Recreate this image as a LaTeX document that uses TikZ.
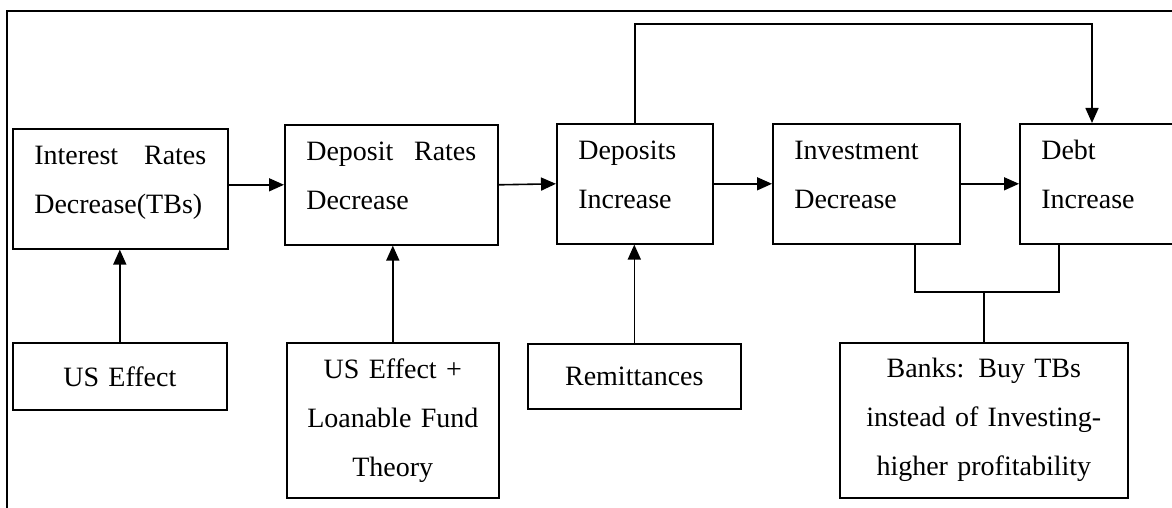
\documentclass[tikz,border=0pt]{standalone}
\usepackage{fontspec}
\setmainfont{Liberation Serif}
\usetikzlibrary{arrows.meta}

\begin{document}
\begin{tikzpicture}[
  x=1pt, y=-1pt,
  every node/.style = {font=\fontsize{28}{49}\selectfont},
  box/.style        = {draw, line width=1.6pt, rectangle, anchor=north west},
  stage/.style      = {box, align=left, inner xsep=21.5pt, inner ysep=0pt,
                       text height=36pt, text depth=84pt},
  cause/.style      = {box, align=center, inner sep=0pt},
  arr/.style        = {-{Triangle[length=15pt, width=13pt]}, line width=1.6pt},
  link/.style       = {line width=1.6pt},
]

\useasboundingbox (0,0) rectangle (1172,508);

%% ── Frame ────────────────────────────────────────────────────────────────
\draw[link] (7,508) -- (7,11) -- (1172,11);

% ── TOP ROW: chain of effects ───────────────────────────────────────────────
\node[stage, text width=172pt] (intr)  at (12,128)   {Interest\hfill Rates\\Decrease(TBs)};
\node[stage, text width=170pt] (depr)  at (284,124)  {Deposit\hfill Rates\\Decrease};
\node[stage, text width=113pt] (depo)  at (556,123)  {Deposits\\Increase};
\node[stage, text width=144pt] (inv)   at (772,123)  {Investment\\Decrease};
\node[stage, text width=127pt] (debt)  at (1019,123) {Debt\\Increase};

% Arrows along the row
\draw[arr] (depr.west -| intr.east) -- (depr.west);
\draw[arr] (depr.east) -- (depo.west);
\draw[arr] (depo.east) -- (inv.west);
\draw[arr] (inv.east)  -- (debt.west);

% Feedback: deposits straight to debt
\coordinate (fb) at (1092,24);
\draw[arr] (depo.north) |- (fb) -- (fb |- debt.north);

% ── BOTTOM ROW: causes ──────────────────────────────────────────────────────
\node[cause, text width=214pt, minimum height=67pt]  (usef)  at (12,342)  {US Effect};
\node[cause, text width=212pt, minimum height=155pt] (lfund) at (286,342) {US Effect +\\Loanable Fund\\Theory};
\node[cause, text width=213pt, minimum height=65pt]  (remit) at (527,343) {Remittances};
\node[cause, text width=288pt, minimum height=155pt] (banks) at (839,342) {Banks: Buy TBs\\instead of Investing-\\higher profitability};

\draw[arr] (usef.north)  -- (usef.north |- intr.south);
\draw[arr] (lfund.north) -- (lfund.north |- depr.south);
\draw[arr] (remit.north) -- (remit.north |- depo.south);

% Bracket joining investment and debt to the banks
\coordinate (bkl) at (915,292);
\coordinate (bkr) at (1059,292);
\draw[link] (bkl |- inv.south) -- (bkl) -- (bkr) -- (bkr |- debt.south);
\draw[link] (banks.north) -- (banks.north |- bkl);

\end{tikzpicture}
\end{document}
